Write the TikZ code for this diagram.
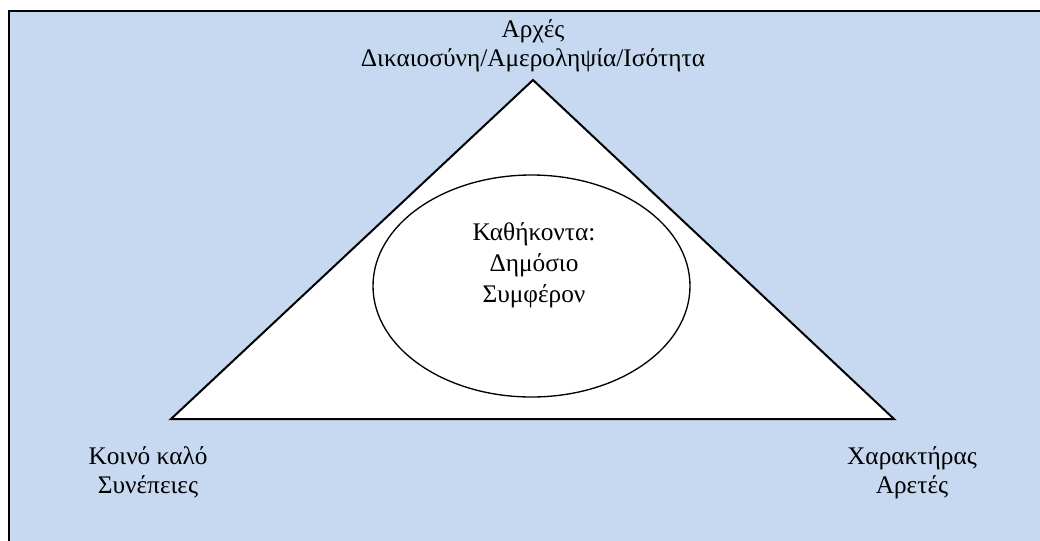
\documentclass[tikz,border=0pt]{standalone}
\usepackage{fontspec}
\setmainfont{Liberation Serif}
\definecolor{panelblue}{RGB}{198,217,241}

\tikzset{every picture/.style={line width=0.75pt}}
\tikzset{
  corner text/.style={align=center, anchor=base, font=\fontsize{19}{21.5}\selectfont},
  inner text/.style={align=center, anchor=base, font=\fontsize{19}{23.2}\selectfont},
}

\begin{document}
\begin{tikzpicture}[x=0.75pt,y=0.75pt,yscale=-1,xscale=1]
	\useasboundingbox (0,0) rectangle (1040,540);

	%Shape: Rectangle [background panel, runs off the page at right and bottom]
	\begin{scope}
	\clip (0,0) rectangle (1040,540);
	\draw [line width=2pt, fill=panelblue] (9,11) -- (1060,11) -- (1060,560) -- (9,560) -- cycle ;
	\end{scope}

	%Shape: Triangle
	\coordinate (apex) at (533,80);
	\coordinate (base left) at (171,419);
	\coordinate (base right) at (894,419);
	\draw [line width=1.5pt, fill=white] (apex) -- (base right) -- (base left) -- cycle ;

	%Shape: Ellipse
	\draw [line width=1pt, fill=white] (531.5,286) ellipse (158.5 and 111) ;

	% Text Node (anchor base = baseline of the last line)
	\node [corner text] (principles) at (533,66) {Αρχές\\Δικαιοσύνη/Αμεροληψία/Ισότητα};
	% Text Node
	\node [corner text] (common good) at (148,493) {Κοινό καλό\\Συνέπειες};
	% Text Node
	\node [corner text] (character) at (912,493) {Χαρακτήρας\\Αρετές};
	% Text Node
	\node [inner text] (duties) at (534,302) {Καθήκοντα:\\Δημόσιο\\Συμφέρον};

\end{tikzpicture}
\end{document}
